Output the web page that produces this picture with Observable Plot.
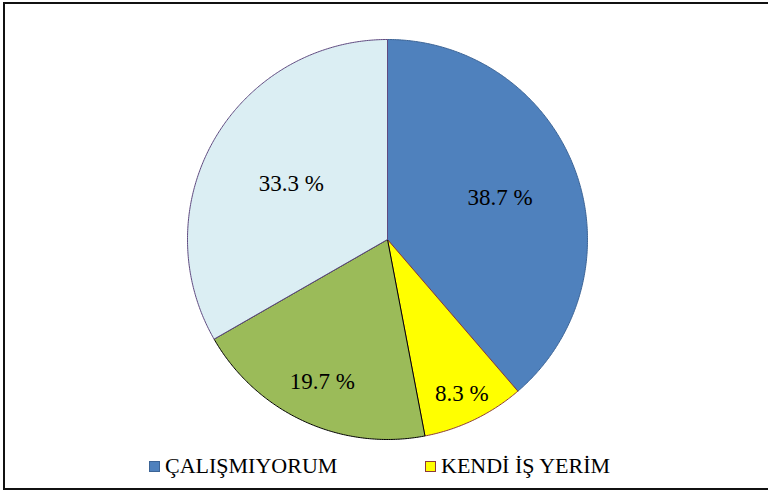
<!DOCTYPE html>
<html>
<head>
<meta charset="utf-8">
<script src="https://cdn.jsdelivr.net/npm/d3@7"></script>
<script src="https://cdn.jsdelivr.net/npm/@observablehq/plot@0.6"></script>
<style>
  html, body { margin: 0; padding: 0; background: #fff; }
  #wrap { position: relative; width: 768px; height: 495px; overflow: hidden; font-family: "Times New Roman", "Liberation Serif", Tinos, "DejaVu Serif", serif; }
  #frame { position: absolute; left: 3px; top: 2px; width: 780px; height: 488px; border: 2px solid #111; box-sizing: border-box; }
  #chart { position: absolute; left: 0; top: 0; }
  .leg { position: absolute; top: 451px; font-size: 22px; line-height: 30px; color: #000; white-space: nowrap; display: flex; align-items: center; }
  .sw { display: inline-block; width: 9px; height: 9px; margin-right: 5px; border: 1px solid; }
</style>
</head>
<body>
<div id="wrap">
  <div id="frame"></div>
  <div id="chart"></div>
  <div id="legend"></div>
</div>
<script>
// Data
const categories = ["ÇALIŞMIYORUM", "KENDİ İŞ YERİM", "DİĞER 1", "DİĞER 2"];
const values = [38.7, 8.3, 19.7, 33.3];
const legendCategories = ["ÇALIŞMIYORUM", "KENDİ İŞ YERİM"];

// Styles
const fills = ["#4F81BD", "#FFFF00", "#9BBB59", "#DBEEF3"];
const strokes = ["#3C6496", "#8C3A3A", "#000000", "#5F4A80"];
const labelRadius = [0.6, 0.855, 0.78, 0.555];
const serif = "'Times New Roman', 'Liberation Serif', Tinos, 'DejaVu Serif', serif";

const pie = d3.pie().sort(null).value(d => d)(values);

const marks = [];
pie.forEach((p, i) => {
  const pts = [{x: 0, y: 0}];
  const n = Math.max(2, Math.ceil((p.endAngle - p.startAngle) / (Math.PI / 360)));
  for (let k = 0; k <= n; k++) {
    const a = p.startAngle + (p.endAngle - p.startAngle) * k / n;
    pts.push({x: Math.sin(a), y: Math.cos(a)});
  }
  pts.push({x: 0, y: 0});
  marks.push(Plot.line(pts, {x: "x", y: "y", fill: fills[i], stroke: strokes[i], strokeWidth: 1, curve: "linear"}));
});

const labels = pie.map((p, i) => {
  const a = (p.startAngle + p.endAngle) / 2;
  return {x: labelRadius[i] * Math.sin(a), y: labelRadius[i] * Math.cos(a), t: values[i].toFixed(1) + " %"};
});
marks.push(Plot.text(labels, {x: "x", y: "y", text: "t", fontSize: 23, fill: "#000", fontFamily: serif}));

const chart = Plot.plot({
  width: 768,
  height: 495,
  margin: 0,
  x: {domain: [-1.935, 1.905], range: [0, 768], axis: null},
  y: {domain: [-1.28, 1.195], range: [495, 0], axis: null},
  style: {background: "transparent", overflow: "visible", fontFamily: serif},
  marks
});
document.getElementById("chart").appendChild(chart);

// Legend
const legendX = [149, 425];
const legend = document.getElementById("legend");
legendCategories.forEach((c, j) => {
  const i = categories.indexOf(c);
  const d = document.createElement("div");
  d.className = "leg";
  d.style.left = legendX[j] + "px";
  const sw = document.createElement("span");
  sw.className = "sw";
  sw.style.background = fills[i];
  sw.style.borderColor = strokes[i];
  d.appendChild(sw);
  d.appendChild(document.createTextNode(c));
  legend.appendChild(d);
});
</script>
</body>
</html>
